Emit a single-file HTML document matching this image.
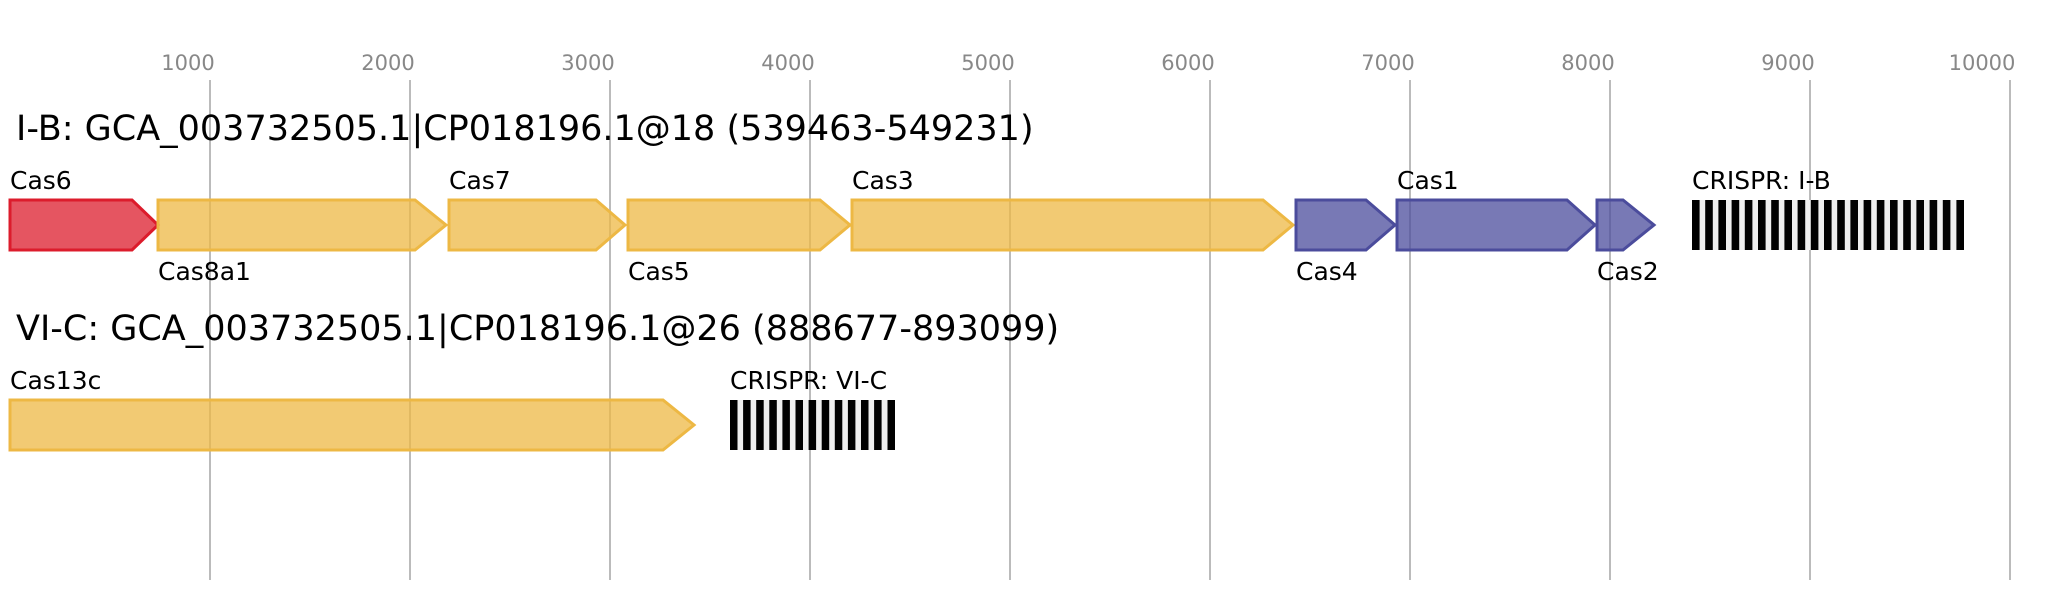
<!DOCTYPE html>
<html><head><meta charset="utf-8"><style>
html,body{margin:0;padding:0;background:#fff;}
svg{display:block;font-family:"DejaVu Sans","Liberation Sans",sans-serif;}
</style></head><body>
<svg width="2054" height="600" viewBox="0 0 2054 600" xmlns="http://www.w3.org/2000/svg">
<g stroke="#bbb" stroke-width="2">
<line x1="210" y1="80" x2="210" y2="580"/><line x1="410" y1="80" x2="410" y2="580"/>
<line x1="610" y1="80" x2="610" y2="580"/><line x1="810" y1="80" x2="810" y2="580"/>
<line x1="1010" y1="80" x2="1010" y2="580"/><line x1="1210" y1="80" x2="1210" y2="580"/>
<line x1="1410" y1="80" x2="1410" y2="580"/><line x1="1610" y1="80" x2="1610" y2="580"/>
<line x1="1810" y1="80" x2="1810" y2="580"/><line x1="2010" y1="80" x2="2010" y2="580"/>
</g>
<g fill="#888" font-size="21" text-anchor="middle">
<text x="188" y="70" text-anchor="middle">1000</text><text x="388" y="70">2000</text><text x="588" y="70">3000</text>
<text x="788" y="70">4000</text><text x="988" y="70">5000</text><text x="1188" y="70">6000</text>
<text x="1388" y="70">7000</text><text x="1588" y="70">8000</text><text x="1788" y="70">9000</text>
<text x="1982" y="70">10000</text>
</g>
<text x="16" y="140" font-size="35" fill="#000">I-B: GCA_003732505.1|CP018196.1@18 (539463-549231)</text>
<text x="16" y="340" font-size="35" fill="#000">VI-C: GCA_003732505.1|CP018196.1@26 (888677-893099)</text>
<g stroke-width="3" fill-opacity="0.75">
<polygon points="10,200 132,200 158,225 132,250 10,250" fill="#dc1c2c" stroke="#dc1c2c"/>
<polygon points="158,200 415,200 446,225 415,250 158,250" fill="#edb844" stroke="#edb844"/>
<polygon points="449,200 596,200 625,225 596,250 449,250" fill="#edb844" stroke="#edb844"/>
<polygon points="628,200 820,200 850,225 820,250 628,250" fill="#edb844" stroke="#edb844"/>
<polygon points="852,200 1263,200 1293,225 1263,250 852,250" fill="#edb844" stroke="#edb844"/>
<polygon points="1296,200 1366,200 1395,225 1366,250 1296,250" fill="#4b4c9c" stroke="#4b4c9c"/>
<polygon points="1397,200 1567,200 1595,225 1567,250 1397,250" fill="#4b4c9c" stroke="#4b4c9c"/>
<polygon points="1597,200 1623,200 1654,225 1623,250 1597,250" fill="#4b4c9c" stroke="#4b4c9c"/>
<polygon points="10,400 663,400 694,425 663,450 10,450" fill="#edb844" stroke="#edb844"/>
</g>
<g font-size="25" fill="#000">
<text x="10" y="189">Cas6</text><text x="158" y="280">Cas8a1</text>
<text x="449" y="189">Cas7</text><text x="628" y="280">Cas5</text>
<text x="852" y="189">Cas3</text><text x="1296" y="280">Cas4</text>
<text x="1397" y="189">Cas1</text><text x="1597" y="280">Cas2</text>
<text x="1692" y="189">CRISPR: I-B</text>
<text x="10" y="389">Cas13c</text><text x="730" y="389">CRISPR: VI-C</text>
</g>
<rect x="1692" y="200" width="272" height="50" fill="#eee"/>
<rect x="730" y="400" width="165" height="50" fill="#eee"/>
<g fill="#000">
<rect x="1692" y="200" width="7.6" height="50"/><rect x="1705.2" y="200" width="7.6" height="50"/>
<rect x="1718.4" y="200" width="7.6" height="50"/><rect x="1731.6" y="200" width="7.6" height="50"/>
<rect x="1744.8" y="200" width="7.6" height="50"/><rect x="1758" y="200" width="7.6" height="50"/>
<rect x="1771.2" y="200" width="7.6" height="50"/><rect x="1784.4" y="200" width="7.6" height="50"/>
<rect x="1797.6" y="200" width="7.6" height="50"/><rect x="1810.8" y="200" width="7.6" height="50"/>
<rect x="1824" y="200" width="7.6" height="50"/><rect x="1837.2" y="200" width="7.6" height="50"/>
<rect x="1850.4" y="200" width="7.6" height="50"/><rect x="1863.6" y="200" width="7.6" height="50"/>
<rect x="1876.8" y="200" width="7.6" height="50"/><rect x="1890" y="200" width="7.6" height="50"/>
<rect x="1903.2" y="200" width="7.6" height="50"/><rect x="1916.4" y="200" width="7.6" height="50"/>
<rect x="1929.6" y="200" width="7.6" height="50"/><rect x="1942.8" y="200" width="7.6" height="50"/>
<rect x="1956.4" y="200" width="7.6" height="50"/>
<rect x="730" y="400" width="7.5" height="50"/><rect x="743.1" y="400" width="7.5" height="50"/>
<rect x="756.2" y="400" width="7.5" height="50"/><rect x="769.3" y="400" width="7.5" height="50"/>
<rect x="782.4" y="400" width="7.5" height="50"/><rect x="795.5" y="400" width="7.5" height="50"/>
<rect x="808.6" y="400" width="7.5" height="50"/><rect x="821.7" y="400" width="7.5" height="50"/>
<rect x="834.8" y="400" width="7.5" height="50"/><rect x="847.9" y="400" width="7.5" height="50"/>
<rect x="861" y="400" width="7.5" height="50"/><rect x="874.1" y="400" width="7.5" height="50"/>
<rect x="887.5" y="400" width="7.5" height="50"/>
</g>
</svg>
</body></html>
